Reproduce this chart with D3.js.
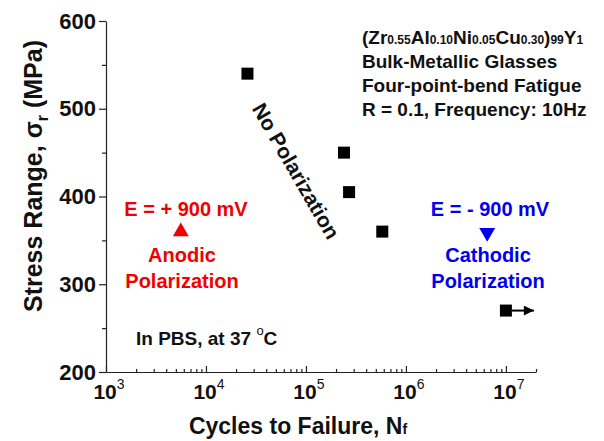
<!DOCTYPE html>
<html>
<head>
<meta charset="utf-8">
<script src="https://cdn.jsdelivr.net/npm/d3@7/dist/d3.min.js"></script>
<style>
  body { margin: 0; background: #fff; }
  svg { font-family: "Liberation Sans", Arial, sans-serif; font-weight: bold; }
</style>
</head>
<body>
<div id="chart"></div>
<script>
// data
const noPolCycles = [2.6e4, 2.4e5, 2.7e5, 5.8e5, 1.0e7];
const noPolStress = [540, 450, 405, 360, 270];
const runout = [false, false, false, false, true];
const anodicCycles = [5.6e3];
const anodicStress = [360];
const cathodicCycles = [6.5e6];
const cathodicStress = [360];
const yTicks = [200, 300, 400, 500, 600];
const xDecades = [3, 4, 5, 6, 7];

const width = 604, height = 441;

let svg = d3.select("#chart").append("svg")
  .attr("width", width).attr("height", height);

// scales
let x = d3.scaleLog().domain([1e3, 2e7]).range([106, 536]);
let y = d3.scaleLinear().domain([200, 600]).range([372, 21]);

// minor tick values
let xMinor = [];
for (let e = 3; e <= 7; e++) for (let m = 2; m <= 9; m++) {
  let v = m * Math.pow(10, e);
  if (v <= 2e7) xMinor.push(v);
}
let yMinor = d3.range(250, 600, 100);

// y axis
svg.append("g").attr("transform", "translate(" + x(1e3) + ",0)")
  .call(d3.axisLeft(y).tickValues(yMinor).tickSize(4).tickFormat(""))
  .call(g => g.select(".domain").remove());
let yAx = svg.append("g").attr("transform", "translate(" + x(1e3) + ",0)")
  .call(d3.axisLeft(y).tickValues(yTicks).tickSize(7).tickSizeOuter(0).tickPadding(3));
yAx.selectAll("text").style("font-size", "22px").style("font-family", "Liberation Sans, Arial, sans-serif").style("font-weight", "bold").attr("fill", "#111");

// x axis (ticks point inward)
svg.append("g").attr("transform", "translate(0," + y(200) + ")")
  .call(d3.axisTop(x).tickValues(xMinor).tickSize(3).tickFormat(""))
  .call(g => g.select(".domain").remove());
let xAx = svg.append("g").attr("transform", "translate(0," + y(200) + ")")
  .call(d3.axisTop(x).tickValues(xDecades.map(d => Math.pow(10, d))).tickSize(6).tickSizeOuter(0).tickFormat(""));

svg.selectAll(".domain, .tick line").attr("stroke", "#222").attr("stroke-width", 1.2);

// x tick labels with superscripts
let xl = svg.append("g").selectAll("text").data(xDecades).enter().append("text")
  .attr("x", d => x(Math.pow(10, d)) + 3)
  .attr("y", 399)
  .attr("text-anchor", "middle")
  .style("font-size", "21px")
  .attr("fill", "#111");
xl.append("tspan").text("10");
xl.append("tspan").attr("dy", -10).style("font-size", "14px").style("font-weight", "normal").text(d => d);

// axis titles
let xt = svg.append("text").attr("x", 298).attr("y", 434).attr("text-anchor", "middle")
  .style("font-size", "23px").attr("fill", "#111");
xt.append("tspan").text("Cycles to Failure, N");
xt.append("tspan").style("font-size", "14px").text("f");

let yt = svg.append("text").attr("transform", "translate(42,176) rotate(-90)")
  .attr("text-anchor", "middle").style("font-size", "25px").attr("fill", "#111");
yt.append("tspan").text("Stress Range, σ");
yt.append("tspan").attr("dy", 6).style("font-size", "16px").text("r");
yt.append("tspan").attr("dy", -6).text(" (MPa)");

// no-polarization squares
let sq = 12;
svg.selectAll(".sq").data(noPolCycles).enter().append("rect")
  .attr("class", "sq")
  .attr("x", d => x(d) - sq / 2)
  .attr("y", (d, i) => y(noPolStress[i]) - sq / 2)
  .attr("width", sq).attr("height", sq).attr("fill", "#000");

// run-out arrow
svg.append("defs").append("marker").attr("id", "ah")
  .attr("viewBox", "0 0 10 10").attr("refX", 10).attr("refY", 5)
  .attr("markerWidth", 9).attr("markerHeight", 5).attr("markerUnits", "strokeWidth")
  .attr("orient", "auto")
  .append("path").attr("d", "M0,0L10,5L0,10z").attr("fill", "#000");
svg.selectAll(".ro").data(noPolCycles.filter((d, i) => runout[i])).enter().append("line")
  .attr("x1", d => x(d) + sq / 2).attr("x2", d => x(d) + 28)
  .attr("y1", (d) => y(noPolStress[noPolCycles.indexOf(d)]))
  .attr("y2", (d) => y(noPolStress[noPolCycles.indexOf(d)]))
  .attr("stroke", "#000").attr("stroke-width", 2).attr("marker-end", "url(#ah)");

// triangles
let tri = d3.symbol().type(d3.symbolTriangle).size(110);
svg.selectAll(".an").data(anodicCycles).enter().append("path")
  .attr("d", tri)
  .attr("transform", (d, i) => "translate(" + x(d) + "," + y(anodicStress[i]) + ")")
  .attr("fill", "#f00000");
svg.selectAll(".ca").data(cathodicCycles).enter().append("path")
  .attr("d", tri)
  .attr("transform", (d, i) => "translate(" + x(d) + "," + (y(cathodicStress[i]) + 1) + ") rotate(180)")
  .attr("fill", "#0000ee");

// annotations
function label(txt, px, py, size, color, anchor) {
  return svg.append("text").attr("x", px).attr("y", py)
    .attr("text-anchor", anchor || "middle")
    .style("font-size", size + "px").attr("fill", color).text(txt);
}
label("E = + 900 mV", 186, 216, 20, "#f00000");
label("Anodic", 182, 262, 20, "#f00000");
label("Polarization", 182, 288, 20, "#f00000");
label("E = - 900 mV", 490, 216, 20, "#0000ee");
label("Cathodic", 488, 262, 20, "#0000ee");
label("Polarization", 488, 288, 20, "#0000ee");

let pbs = label("In PBS, at 37 ", 136, 345, 19, "#111", "start");
pbs.append("tspan").attr("dy", -10).style("font-size", "13px").style("font-weight", "normal").text("o");
pbs.append("tspan").attr("dy", 10).text("C");

svg.append("text").attr("transform", "translate(296,171) rotate(60)")
  .attr("text-anchor", "middle").attr("dy", "0.35em")
  .style("font-size", "21px").attr("fill", "#111").text("No Polarization");

// composition block
let comp = svg.append("text").attr("x", 362).attr("y", 44).style("font-size", "19px").attr("fill", "#111");
const parts = [["(Zr", false], ["0.55", true], ["Al", false], ["0.10", true], ["Ni", false], ["0.05", true],
  ["Cu", false], ["0.30", true], [")", false], ["99", true], ["Y", false], ["1", true]];
parts.forEach(p => comp.append("tspan").style("font-size", p[1] ? "12px" : "19px").text(p[0]));
label("Bulk-Metallic Glasses", 362, 68, 19, "#111", "start");
label("Four-point-bend Fatigue", 362, 92, 19, "#111", "start");
label("R = 0.1, Frequency: 10Hz", 362, 116, 19, "#111", "start");
</script>
</body>
</html>
